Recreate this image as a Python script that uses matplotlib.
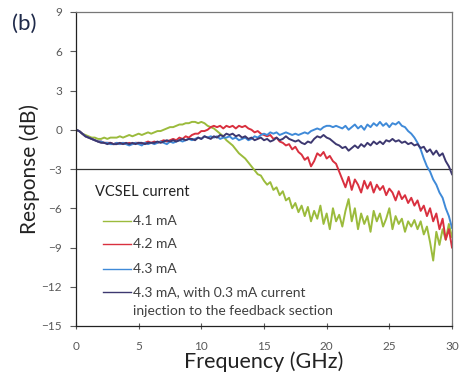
import numpy as np
import matplotlib
matplotlib.use("Agg")
import matplotlib.pyplot as plt

freq_step = 0.25
freq = np.arange(0, 121) * freq_step

green_41 = [0, -0.1, -0.3, -0.4, -0.5, -0.6, -0.6, -0.7, -0.7, -0.6, -0.7, -0.6, -0.6,
            -0.6, -0.5, -0.6, -0.5, -0.4, -0.5, -0.4, -0.3, -0.4, -0.3, -0.2, -0.3,
            -0.2, -0.1, -0.1, 0.0, 0.1, 0.2, 0.2, 0.3, 0.4, 0.4, 0.5, 0.5,
            0.6, 0.6, 0.5, 0.6, 0.5, 0.3, 0.2, 0.1, -0.1, -0.3, -0.5, -0.8,
            -1.0, -1.2, -1.5, -1.8, -2.0, -2.2, -2.5, -2.8, -3.1, -3.4, -3.5, -3.9,
            -4.2, -4.0, -4.6, -4.4, -5.0, -4.7, -5.4, -5.2, -6.0, -5.6, -6.3, -5.8,
            -6.6, -5.9, -7.0, -6.2, -6.8, -5.8, -7.2, -6.4, -7.6, -6.0, -7.0, -6.5,
            -7.4, -6.2, -5.3, -7.0, -6.0, -7.6, -6.4, -7.2, -6.6, -7.8, -6.2, -7.0,
            -6.4, -7.4, -6.8, -6.0, -7.6, -6.6, -7.2, -6.8, -7.8, -7.0, -7.4, -6.9,
            -7.6, -7.0, -8.0, -7.4, -8.6, -10.0, -7.8, -8.8, -7.6, -8.4, -7.2, -8.2]

red_42 = [0, -0.1, -0.3, -0.5, -0.6, -0.7, -0.8, -0.9, -0.9, -1.0, -1.0, -1.0, -1.1,
          -1.0, -1.1, -1.0, -1.1, -1.0, -1.1, -1.0, -1.0, -1.1, -1.0, -0.9, -1.0,
          -0.9, -1.0, -0.9, -0.8, -0.9, -0.8, -0.7, -0.8, -0.6, -0.7, -0.5, -0.6,
          -0.4, -0.3, -0.3, -0.1, -0.1, 0.0, 0.2, 0.3, 0.2, 0.3, 0.1, 0.3,
          0.2, 0.3, 0.1, 0.3, 0.2, 0.3, 0.1, 0.0, -0.2, -0.1, -0.3, -0.4,
          -0.5, -0.4, -0.7, -0.6, -0.9, -1.0, -1.2, -1.1, -1.5, -1.3, -1.7, -1.9,
          -2.3, -2.1, -2.8, -2.4, -1.8, -2.0, -1.7, -2.2, -2.0, -2.4, -2.6, -3.2,
          -3.8, -4.4, -3.6, -4.6, -3.8, -4.2, -4.8, -3.9, -4.5, -4.0, -4.8, -4.2,
          -4.6, -4.3, -5.0, -4.5, -4.8, -5.4, -4.7, -5.3, -5.0, -5.6, -5.2, -5.8,
          -5.4, -6.2, -5.8, -6.6, -6.0, -7.0, -6.4, -7.6, -6.8, -8.4, -7.6, -9.0]

blue_43 = [0, -0.1, -0.3, -0.5, -0.6, -0.7, -0.8, -0.9, -0.9, -1.0, -1.0, -1.1, -1.1,
           -1.0, -1.1, -1.0, -1.1, -1.2, -1.1, -1.0, -1.1, -1.2, -1.0, -1.1, -1.0,
           -1.1, -1.0, -0.9, -1.0, -1.1, -0.9, -1.0, -0.9, -0.8, -0.9, -0.8, -0.7,
           -0.8, -0.7, -0.6, -0.7, -0.5, -0.6, -0.5, -0.6, -0.5, -0.7, -0.6, -0.6,
           -0.5, -0.7, -0.6, -0.8, -0.7, -0.6, -0.8, -0.7, -0.5, -0.6, -0.4, -0.3,
           -0.4, -0.2, -0.3, -0.2, -0.4, -0.3, -0.2, -0.3, -0.4, -0.3, -0.4, -0.3,
           -0.2, -0.3, -0.1, 0.0, 0.1, 0.0, 0.2, 0.3, 0.3, 0.2, 0.3, 0.2,
           0.1, 0.3, 0.0, 0.2, 0.4, 0.1, 0.3, 0.0, 0.4, 0.2, 0.5, 0.3,
           0.6, 0.3, 0.5, 0.2, 0.5, 0.4, 0.6, 0.3, 0.2, -0.1, -0.3, -0.6,
           -1.0, -1.5, -2.2, -2.8, -3.2, -3.8, -4.2, -4.8, -5.2, -6.0, -6.6, -7.5]

dark_43inj = [0, -0.1, -0.3, -0.5, -0.6, -0.7, -0.8, -0.9, -1.0, -1.0, -1.1, -1.0, -1.1,
              -1.1, -1.0, -1.1, -1.0, -1.1, -1.0, -1.1, -1.0, -1.0, -1.1, -1.0, -1.0,
              -1.0, -0.9, -1.0, -0.9, -0.8, -0.9, -0.8, -0.9, -0.8, -0.7, -0.8, -0.7,
              -0.7, -0.8, -0.6, -0.7, -0.5, -0.6, -0.7, -0.5, -0.6, -0.4, -0.5, -0.3,
              -0.4, -0.3, -0.5, -0.4, -0.6, -0.5, -0.7, -0.6, -0.8, -0.7, -0.6, -0.8,
              -0.7, -0.9, -0.8, -0.6, -0.8, -0.7, -0.5, -0.7, -0.8, -0.9, -0.8, -1.0,
              -1.1, -0.9, -1.0, -0.7, -0.5, -0.6, -0.4, -0.6, -0.7, -0.9, -1.1, -1.2,
              -1.4, -1.3, -1.6, -1.4, -1.2, -1.4, -1.1, -1.3, -1.0, -1.2, -0.9, -1.1,
              -0.9, -1.1, -0.8, -0.9, -0.7, -0.9, -0.8, -1.0, -0.9, -1.1, -1.0, -1.2,
              -1.1, -1.4, -1.3, -1.7, -1.5, -1.9, -1.6, -2.0, -1.8, -2.4, -2.8, -3.4]

legend_title = "VCSEL current"
series_labels = ["4.1 mA", "4.2 mA", "4.3 mA",
                 "4.3 mA, with 0.3 mA current\ninjection to the feedback section"]
series_colors = ["#9bbb3c", "#d9303f", "#3f8ad8", "#3d3870"]

x_ticks = [0, 5, 10, 15, 20, 25, 30]
y_ticks = [-15, -12, -9, -6, -3, 0, 3, 6, 9]
ref_level = -3

plt.rcParams['font.family'] = ['Lato', 'DejaVu Sans']

W, H = 459, 379
AX_L, AX_R, AX_T, AX_B = 76, 452, 12, 326
fig = plt.figure(figsize=(W / 100, H / 100), dpi=100)
ax = fig.add_axes([AX_L / W, 1 - AX_B / H, (AX_R - AX_L) / W, (AX_B - AX_T) / H])

for vals, lab, col in zip([green_41, red_42, blue_43, dark_43inj], series_labels, series_colors):
    ax.plot(freq, vals, color=col, lw=1.4, label=lab)

ax.axhline(ref_level, color="#333333", lw=0.9, zorder=1)

ax.set_xlim(0, 30)
ax.set_ylim(-15, 9)
ax.set_xticks(x_ticks)
ax.set_yticks(y_ticks)
ax.tick_params(axis='both', labelsize=8.5, colors='#595959', length=4, width=0.8)
ax.tick_params(axis='y', pad=6)
ax.tick_params(axis='x', direction='inout', length=5, pad=8)
for s in ax.spines.values():
    s.set_color('#777777')
    s.set_linewidth(0.9)
ax.spines['left'].set_color('#222222')
ax.spines['bottom'].set_color('#222222')

ax.set_xlabel("Frequency (GHz)", fontsize=15.5, color='#222222', labelpad=0)
ax.set_ylabel("Response (dB)", fontsize=15, color='#222222', labelpad=1)

fig.text(12 / W, 1 - 24 / H, "(b)", fontsize=16, color='#1f2a4a', va='center', ha='left')

# legend (manual layout, pixel positions converted to axes fractions)
def fx(px):
    return (px - AX_L) / (AX_R - AX_L)

def fy(py):
    return (AX_B - py) / (AX_B - AX_T)

ax.text(fx(95), fy(192), legend_title, transform=ax.transAxes, fontsize=10.5,
        color='#222222', va='center', ha='left')
row_y = [221, 244, 269, 292]
line_gap = 19
for lab, col, ry in zip(series_labels, series_colors, row_y):
    ax.plot([fx(103), fx(131)], [fy(ry), fy(ry)], color=col, lw=1.0,
            transform=ax.transAxes, clip_on=False)
    for k, part in enumerate(lab.split("\n")):
        ax.text(fx(133), fy(ry + k * line_gap), part, transform=ax.transAxes,
                fontsize=10, color='#404040', va='center', ha='left')

fig.savefig("out.png", dpi=100)
